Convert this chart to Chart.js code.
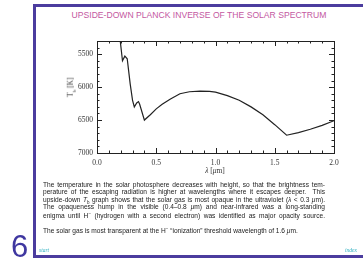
<!DOCTYPE html>
<html>
<head>
<meta charset="utf-8">
<script src="https://cdn.jsdelivr.net/npm/chart.js@4/dist/chart.umd.min.js"></script>
<style>
  html, body { margin: 0; padding: 0; background: #fff; }
  body { width: 363px; height: 259px; position: relative; overflow: hidden; font-family: "Liberation Sans", Arial, sans-serif; }
  #frame { position: absolute; left: 33px; top: 4px; width: 340px; height: 248px; border: 3px solid #4b3c9e; border-right: none; }
  #title { position: absolute; left: 34px; width: 330px; top: 10px; text-align: center; font-size: 8.6px; color: #c4589f; }
  #chartBox { position: absolute; left: 0; top: 0; width: 363px; height: 180px; }
  #ytitle { position: absolute; left: 56px; top: 82px; width: 30px; text-align: center; font-family: "Liberation Serif", serif; font-size: 7.5px; color: #333; transform: rotate(-90deg); }
  #xtitle { position: absolute; left: 185px; top: 166px; width: 60px; text-align: center; font-family: "Liberation Serif", serif; font-size: 7.5px; color: #333; }
  #para { position: absolute; left: 43px; top: 181px; width: 282px; font-size: 6.6px; color: #222; }
  .ln { text-align: justify; text-align-last: justify; height: 7.3px; line-height: 7.3px; white-space: nowrap; }
  .last { position: absolute; left: 43px; top: 226px; font-size: 6.6px; color: #222; white-space: nowrap; }
  #num { position: absolute; left: 11px; top: 230px; font-size: 31px; color: #3f37a0; line-height: 34px; }
  #start { position: absolute; left: 39px; top: 247px; font-family: "Liberation Serif", serif; font-style: italic; font-size: 5.5px; color: #2fb0c0; }
  #index { position: absolute; left: 345px; top: 247px; font-family: "Liberation Serif", serif; font-style: italic; font-size: 5.5px; color: #2fb0c0; }
</style>
</head>
<body>
<div id="frame"></div>
<div id="title">UPSIDE-DOWN PLANCK INVERSE OF THE SOLAR SPECTRUM</div>
<div id="chartBox"><canvas id="chart" width="363" height="180"></canvas></div>
<div id="ytitle">T<sub style="font-size:5px">b</sub> [K]</div>
<div id="xtitle"><i>λ</i> [<i>μ</i>m]</div>
<div id="para">
  <div class="ln">The temperature in the solar photosphere decreases with height, so that the brightness tem-</div>
  <div class="ln">perature of the escaping radiation is higher at wavelengths where it escapes deeper.&nbsp; This</div>
  <div class="ln">upside-down <i>T</i><sub style="font-size:4.5px">b</sub> graph shows that the solar gas is most opaque in the ultraviolet (<i>λ</i> &lt; 0.3 <i>μ</i>m).</div>
  <div class="ln">The opaqueness hump in the visible (0.4–0.8 <i>μ</i>m) and near-infrared was a long-standing</div>
  <div class="ln">enigma until H<sup style="font-size:4.5px">−</sup> (hydrogen with a second electron) was identified as major opacity source.</div>
</div>
<div class="last">The solar gas is most transparent at the H<sup style="font-size:4.5px">−</sup> “ionization” threshold wavelength of 1.6 <i>μ</i>m.</div>
<div id="num">6</div>
<div id="start">start</div>
<div id="index">index</div>

<script>
// wavelength in micron and brightness temperature in K
const lambda = [0.19, 0.215, 0.235, 0.255, 0.28, 0.30, 0.315, 0.335, 0.35, 0.36, 0.40, 0.45, 0.50, 0.55,
  0.62, 0.70, 0.78, 0.87, 0.95, 1.00, 1.10, 1.20, 1.30, 1.40, 1.50, 1.60, 1.70, 1.80, 1.90, 2.00];
const tempB = [5200, 5600, 5530, 5570, 5950, 6200, 6300, 6240, 6220, 6260, 6500, 6420, 6330, 6260,
  6180, 6100, 6070, 6060, 6065, 6075, 6130, 6200, 6300, 6420, 6570, 6730, 6690, 6640, 6580, 6510];

const xTicks = [0.0, 0.5, 1.0, 1.5, 2.0];
const yTicks = [5500, 6000, 6500, 7000];
const X_MIN = 0, X_MAX = 2.0;
const Y_MIN = 5300, Y_MAX = 7000;

// box around the plot with inward major and minor ticks
const framePlugin = {
  id: "frame",
  afterDraw(chart) {
    const { ctx, chartArea: a, scales } = chart;
    const x = scales.x, y = scales.y;
    ctx.save();
    ctx.strokeStyle = "#222";
    ctx.lineWidth = 1;
    ctx.strokeRect(a.left + 0.5, a.top + 0.5, a.right - a.left, a.bottom - a.top);
    ctx.beginPath();
    for (let i = 0; i <= 20; i++) {
      const v = i / 10;
      const px = Math.round(x.getPixelForValue(v)) + 0.5;
      const len = i % 5 === 0 ? 5 : 2.5;
      ctx.moveTo(px, a.bottom);
      ctx.lineTo(px, a.bottom - len);
      ctx.moveTo(px, a.top);
      ctx.lineTo(px, a.top + len);
    }
    for (let v = 5400; v <= 7000; v += 100) {
      const py = Math.round(y.getPixelForValue(v)) + 0.5;
      const len = v % 500 === 0 ? 5 : 2.5;
      ctx.moveTo(a.left, py);
      ctx.lineTo(a.left + len, py);
      ctx.moveTo(a.right, py);
      ctx.lineTo(a.right - len, py);
    }
    ctx.stroke();
    ctx.restore();
  },
};

const ctx = document.getElementById("chart").getContext("2d");
new Chart(ctx, {
  type: "line",
  data: {
    datasets: [
      {
        data: lambda.map((l, i) => ({ x: l, y: tempB[i] })),
        borderColor: "#222",
        borderWidth: 1.2,
        pointRadius: 0,
        tension: 0,
        fill: false,
      },
    ],
  },
  options: {
    responsive: false,
    animation: false,
    layout: { padding: { top: 41, right: 29, left: 0, bottom: 0 } },
    plugins: { legend: { display: false }, tooltip: { enabled: false } },
    scales: {
      x: {
        type: "linear",
        min: X_MIN,
        max: X_MAX,
        afterBuildTicks: (s) => { s.ticks = xTicks.map((v) => ({ value: v })); },
        afterFit: (s) => { s.height = 27; },
        grid: { display: false, drawTicks: false },
        border: { display: false },
        ticks: {
          padding: 6,
          color: "#333",
          font: { family: "Liberation Serif", size: 7.5 },
          callback: (v) => v.toFixed(1),
        },
      },
      y: {
        type: "linear",
        reverse: true,
        min: Y_MIN,
        max: Y_MAX,
        afterBuildTicks: (s) => { s.ticks = yTicks.map((v) => ({ value: v })); },
        afterFit: (s) => { s.width = 97; },
        grid: { display: false, drawTicks: false },
        border: { display: false },
        ticks: {
          padding: 4,
          color: "#333",
          font: { family: "Liberation Serif", size: 7.5 },
          callback: (v) => String(v),
        },
      },
    },
  },
  plugins: [framePlugin],
});
</script>
</body>
</html>
